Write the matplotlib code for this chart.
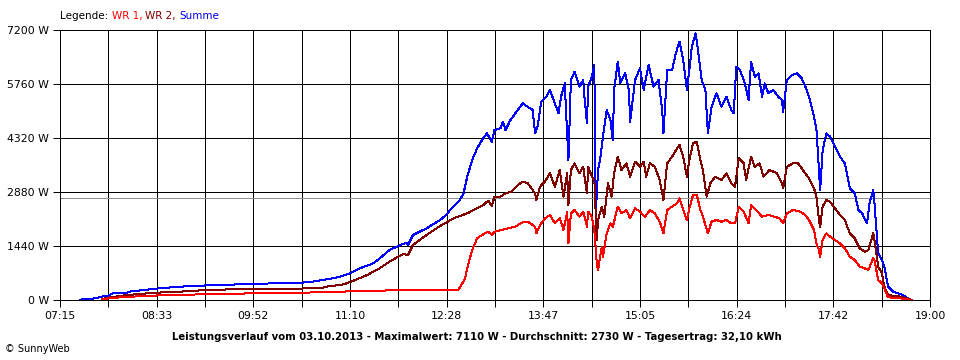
import numpy as np
import matplotlib.pyplot as plt

# Zeit in Minuten seit Mitternacht, Leistung in W
t_sum = [451, 453, 461, 469, 474, 478, 489, 490, 512, 532, 554, 597, 630, 640, 651, 662, 670, 678,
         689, 694, 702, 711, 716, 717, 721, 732, 743, 748, 751, 759, 762, 765, 769, 773, 777, 781,
         785, 787, 792, 794, 796, 800, 805, 810, 814, 818, 820, 822, 825, 829, 832, 836, 839, 841,
         844, 847, 849, 852, 856, 859, 860, 862, 863, 866, 868, 869, 871, 873, 875, 878, 881, 883,
         884, 887, 889, 893, 896, 897, 901, 905, 908, 912, 916, 920, 923, 924, 927, 931, 934, 937,
         940, 943, 945, 947, 950, 952, 955, 958, 960, 963, 967, 971, 975, 979, 981, 983, 986, 990,
         993, 995, 998, 1001, 1004, 1006, 1009, 1013, 1017, 1020, 1021, 1024, 1028, 1032, 1036,
         1039, 1042, 1046, 1048, 1050, 1051, 1053, 1056, 1059, 1063, 1067, 1071, 1075, 1079, 1082,
         1085, 1089, 1091, 1094, 1095, 1098, 1101, 1103, 1106, 1110, 1116, 1121, 1125]
p_sum = [0, 15, 30, 90, 115, 180, 180, 220, 300, 355, 390, 435, 460, 490, 550, 620, 710, 845,
         980, 1110, 1333, 1467, 1530, 1467, 1733, 1911, 2133, 2267, 2400, 2667, 2844, 3289, 3733,
         4044, 4267, 4444, 4222, 4533, 4578, 4756, 4533, 4800, 5022, 5244, 5150, 5067, 4444, 4622,
         5289, 5422, 5600, 5244, 4978, 5422, 5778, 3733, 5867, 6089, 5689, 5867, 5422, 4711, 5689,
         5955, 6267, 2222, 3467, 3822, 4355, 5067, 4800, 4267, 5600, 6355, 5778, 6044, 5600, 4756,
         5867, 6178, 5600, 6267, 5689, 5867, 5067, 4444, 6133, 6133, 6578, 6889, 6400, 5600, 6133,
         6755, 7110, 6667, 5867, 5600, 4444, 5155, 5511, 5155, 5422, 5067, 4978, 6222, 6133, 5778,
         5333, 6355, 5955, 6044, 5422, 5778, 5511, 5600, 5422, 5333, 5022, 5867, 6000, 6044, 5911,
         5689, 5422, 4889, 4533, 3467, 2933, 4000, 4444, 4355, 4089, 3822, 3644, 2978, 2844, 2400,
         2311, 2044, 2578, 2933, 2578, 1244, 1067, 889, 355, 222, 160, 71, 0]

t_wr2 = [469, 474, 489, 513, 532, 554, 584, 646, 651, 665, 673, 684, 694, 702, 713, 717, 721, 732,
         743, 754, 765, 773, 778, 782, 785, 787, 792, 796, 801, 806, 810, 814, 820, 821, 824, 828,
         832, 836, 840, 843, 846, 847, 849, 852, 856, 859, 860, 862, 863, 866, 868, 870, 871, 874,
         876, 879, 882, 884, 887, 890, 894, 897, 901, 905, 908, 910, 913, 917, 921, 924, 927, 931,
         935, 937, 940, 943, 945, 948, 951, 954, 956, 959, 962, 966, 971, 975, 979, 982, 985, 989,
         991, 995, 998, 1002, 1005, 1010, 1016, 1020, 1021, 1024, 1029, 1033, 1037, 1042, 1046,
         1048, 1050, 1051, 1053, 1056, 1059, 1063, 1067, 1071, 1075, 1079, 1083, 1087, 1090, 1094,
         1095, 1098, 1101, 1103, 1106, 1116, 1121, 1125]
p_wr2 = [20, 60, 133, 195, 222, 267, 293, 311, 355, 418, 516, 667, 845, 1022, 1227, 1200, 1467,
         1733, 1973, 2178, 2311, 2444, 2533, 2649, 2507, 2755, 2755, 2844, 2889, 3067, 3155, 3111,
         2844, 2667, 3022, 3155, 3378, 3022, 3467, 2755, 3378, 2533, 3467, 3644, 3378, 3555, 3289,
         2844, 3555, 3289, 3200, 1600, 2133, 2489, 2222, 3111, 2755, 3378, 3822, 3467, 3644, 3289,
         3689, 3555, 3689, 3289, 3644, 3555, 3200, 2667, 3644, 3822, 4044, 4133, 3822, 3289, 3733,
         4178, 4222, 3733, 3467, 2755, 3111, 3289, 3200, 3378, 3111, 3022, 3778, 3644, 3200, 3822,
         3555, 3644, 3289, 3467, 3378, 3111, 2978, 3555, 3644, 3644, 3467, 3244, 2978, 2755, 2133,
         1955, 2489, 2667, 2622, 2444, 2267, 2133, 1778, 1644, 1378, 1289, 1333, 1778, 1600, 889,
         711, 355, 133, 89, 44, 0]

t_wr1 = [469, 474, 484, 503, 524, 551, 592, 646, 670, 705, 748, 758, 763, 766, 769, 773, 777, 782,
         785, 787, 793, 798, 804, 809, 814, 820, 821, 824, 828, 832, 836, 840, 843, 846, 847, 849,
         852, 856, 859, 862, 863, 866, 868, 870, 871, 874, 875, 878, 881, 883, 885, 887, 890, 894,
         897, 901, 905, 909, 913, 917, 921, 924, 927, 931, 935, 937, 940, 943, 945, 948, 951, 954,
         956, 960, 963, 967, 971, 975, 979, 982, 985, 989, 993, 995, 999, 1004, 1009, 1014, 1018,
         1021, 1024, 1029, 1035, 1039, 1042, 1046, 1048, 1050, 1051, 1053, 1056, 1059, 1063, 1067,
         1071, 1075, 1079, 1083, 1087, 1090, 1094, 1095, 1098, 1101, 1103, 1106, 1116, 1125]
p_wr1 = [15, 44, 71, 107, 133, 151, 178, 204, 231, 258, 276, 280, 551, 978, 1333, 1644, 1733,
         1822, 1733, 1822, 1867, 1911, 1955, 2062, 2089, 1955, 1778, 2000, 2178, 2267, 2044, 2178,
         1867, 2355, 1511, 2311, 2400, 2222, 2355, 1955, 2355, 2222, 1867, 978, 800, 1422, 1155,
         1778, 2044, 1955, 2222, 2489, 2311, 2400, 2178, 2444, 2355, 2222, 2400, 2311, 2089, 1778,
         2400, 2489, 2578, 2711, 2400, 2133, 2444, 2800, 2800, 2400, 2222, 1778, 2089, 2133, 2089,
         2133, 2044, 2044, 2489, 2355, 2044, 2533, 2400, 2222, 2267, 2222, 2178, 2044, 2311, 2400,
         2355, 2267, 2133, 1867, 1511, 1333, 1155, 1600, 1778, 1689, 1600, 1511, 1378, 1155, 1067,
         889, 844, 800, 1111, 1067, 533, 444, 311, 71, 44, 0]

avg = 2730
x_labels = ['07:15', '08:33', '09:52', '11:10', '12:28', '13:47', '15:05', '16:24', '17:42', '19:00']
y_ticks = [0, 1440, 2880, 4320, 5760, 7200]
title = ('Leistungsverlauf vom 03.10.2013 - Maximalwert: 7110 W - '
         'Durchschnitt: 2730 W - Tagesertrag: 32,10 kWh')

plt.rcParams['font.family'] = ['DejaVu Sans']
px = 0.72  # ca. 1 Pixel bei 100 dpi

fig = plt.figure(figsize=(9.6, 3.6), dpi=100)
ax = fig.add_axes([60/960, 60/360, 870/960, 270/360])

t0, t1 = 435, 1140
ax.set_xlim(t0, t1)
ax.set_ylim(0, 7200)

ax.set_xticks(np.linspace(t0, t1, 10))
ax.set_xticklabels(x_labels)
ax.set_xticks(np.linspace(t0, t1, 19), minor=True)
ax.set_yticks(y_ticks)
ax.set_yticklabels([f'{v} W' for v in y_ticks])

ax.tick_params(which='both', direction='out', length=5, width=px, color='black',
               labelsize=7.8, pad=3)
ax.grid(True, which='both', axis='x', color='black', lw=px, antialiased=False)
ax.grid(True, which='major', axis='y', color='black', lw=px, antialiased=False)
for s in ax.spines.values():
    s.set_linewidth(px)
    s.set_antialiased(False)
ax.set_axisbelow(True)

ax.axhline(avg, color='#909090', lw=px, antialiased=False, zorder=2)

ax.plot(t_sum, p_sum, color='#0000ff', lw=px, antialiased=False, zorder=3)
ax.plot(t_wr2, p_wr2, color='#800000', lw=px, antialiased=False, zorder=4)
ax.plot(t_wr1, p_wr1, color='#ff0000', lw=px, antialiased=False, zorder=5)

# Legende oben links, Teile farbig
fig.canvas.draw()
r = fig.canvas.get_renderer()
xpos = 60
for txt, col in [('Legende: ', 'black'), ('WR 1, ', '#ff0000'), ('WR 2, ', '#800000'), ('Summe', '#0000ff')]:
    tt = fig.text(xpos/960, 1 - 16/360, txt, color=col, fontsize=7.5, va='center', ha='left')
    xpos += tt.get_window_extent(r).width

fig.text(0.497, 1 - 337/360, title, fontsize=7.3, fontweight='bold', ha='center', va='center')
fig.text(5/960, 1 - 349/360, '© SunnyWeb', fontsize=7, ha='left', va='center')

fig.savefig('out.png', dpi=100)
